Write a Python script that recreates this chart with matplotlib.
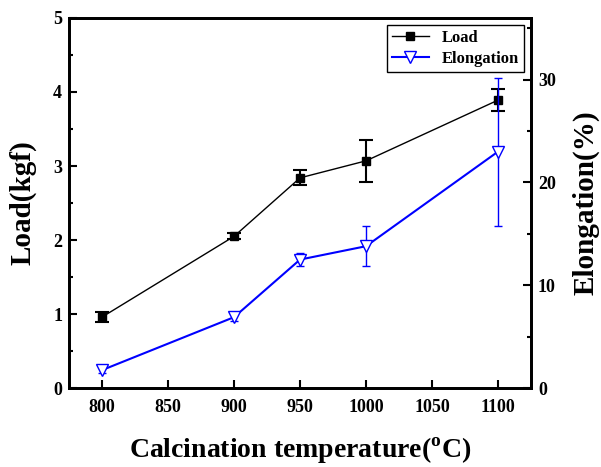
import numpy as np
import matplotlib
matplotlib.use("Agg")
import matplotlib.pyplot as plt
from matplotlib.ticker import MultipleLocator

# data
temperature = [800, 900, 950, 1000, 1100]
load = [0.96, 2.05, 2.84, 3.07, 3.89]
load_err = [0.07, 0.04, 0.10, 0.28, 0.15]
elongation = [1.75, 6.9, 12.5, 13.8, 23.0]
elongation_err = [0.3, 0.4, 0.6, 1.95, 7.2]

plt.rcParams['font.family'] = ['Liberation Serif', 'DejaVu Serif']
plt.rcParams['font.weight'] = 'bold'
plt.rcParams['mathtext.fontset'] = 'custom'
plt.rcParams['mathtext.rm'] = 'Liberation Serif:bold'
plt.rcParams['mathtext.bf'] = 'Liberation Serif:bold'

fig = plt.figure(figsize=(6.01, 4.67), dpi=100)
ax = fig.add_axes([0.115, 0.169, 0.7685, 0.7925])
ax2 = ax.twinx()

l1 = ax.errorbar(temperature, load, yerr=load_err, color='black', lw=1.0,
                 marker='s', ms=6, capsize=5, capthick=1.5, elinewidth=1.5)
l2 = ax2.errorbar(temperature, elongation, yerr=elongation_err, color='blue', lw=1.5,
                  marker='v', ms=8, mfc='white', mec='blue', capsize=3, capthick=1,
                  elinewidth=1)

ax.set_xlim(775, 1125)
ax.set_ylim(0, 5)
ax2.set_ylim(0, 36)
ax.set_xticks(np.arange(800, 1101, 50))
ax.yaxis.set_major_locator(MultipleLocator(1))
ax.yaxis.set_minor_locator(MultipleLocator(0.5))
ax2.yaxis.set_major_locator(MultipleLocator(10))
ax2.yaxis.set_minor_locator(MultipleLocator(5))

for a in (ax, ax2):
    for s in a.spines.values():
        s.set_linewidth(2)
    a.tick_params(which='major', direction='in', length=6, width=1.5, labelsize=13)
    a.tick_params(which='minor', direction='in', length=3, width=1.5)
ax.tick_params(axis='x', pad=8)
ax.tick_params(axis='y', pad=5)
ax2.tick_params(axis='y', pad=5)

ax.set_xlabel(r'Calcination temperature($^{\rm o}$C)', fontsize=20, fontweight='bold', labelpad=14)
ax.set_ylabel('Load(kgf)', fontsize=21, fontweight='bold', labelpad=12)
ax2.set_ylabel('Elongation(%)', fontsize=21, fontweight='bold', labelpad=12)

leg = ax.legend([l1[0], l2[0]], ['Load', 'Elongation'], loc='upper right', fontsize=12,
                fancybox=False, edgecolor='black', framealpha=1,
                borderaxespad=0.4, handlelength=2.2, borderpad=0.3, labelspacing=0.3)
leg.get_frame().set_linewidth(1)

fig.savefig('out.png', dpi=100)
